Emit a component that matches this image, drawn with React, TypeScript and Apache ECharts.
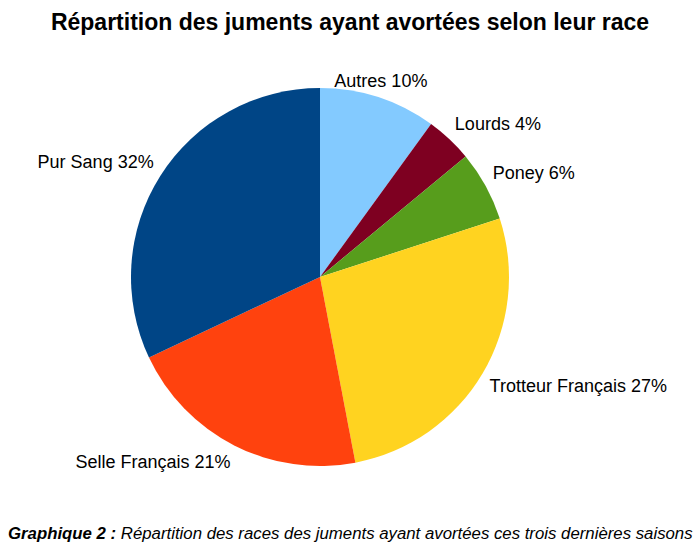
import React, { useEffect, useRef } from "react";
import * as echarts from "echarts";

const TITLE = "Répartition des juments ayant avortées selon leur race";
const CAPTION_BOLD = "Graphique 2 :";
const CAPTION_TEXT = " Répartition des races des juments ayant avortées ces trois dernières saisons";

const categories = ["Autres", "Lourds", "Poney", "Trotteur Français", "Selle Français", "Pur Sang"];
const values = [10, 4, 6, 27, 21, 32];
const colors = ["#83CAFF", "#7E0021", "#579D1C", "#FFD320", "#FF420E", "#004586"];

const CX = 320;
const CY = 277;
const R = 189;
const GAP = 8;

export default function App() {
  const ref = useRef<HTMLDivElement>(null);
  useEffect(() => {
    if (!ref.current) return;
    const chart = echarts.init(ref.current, null, { renderer: "svg" });
    const total = values.reduce((a, b) => a + b, 0);
    const mids: number[] = [];
    let acc = 0;
    values.forEach((v) => {
      mids.push(((acc + v / 2) / total) * Math.PI * 2);
      acc += v;
    });
    chart.setOption({
      animation: false,
      backgroundColor: "#ffffff",
      title: {
        text: TITLE,
        left: "center",
        top: 5,
        textStyle: { fontFamily: "Liberation Sans", fontWeight: "bold", fontSize: 23, color: "#000" },
      },
      graphic: [
        {
          type: "text",
          left: 8,
          top: 525,
          style: {
            text: "{b|" + CAPTION_BOLD + "}{i|" + CAPTION_TEXT + "}",
            rich: {
              b: { fontFamily: "Liberation Sans", fontWeight: "bold", fontStyle: "italic", fontSize: 16.8, fill: "#000" },
              i: { fontFamily: "Liberation Sans", fontStyle: "italic", fontSize: 16.8, fill: "#000" },
            },
          },
        },
      ],
      series: [
        {
          type: "pie",
          center: [CX, CY],
          radius: R,
          startAngle: 90,
          clockwise: true,
          data: categories.map((c, i) => ({ name: c, value: values[i], itemStyle: { color: colors[i] } })),
          itemStyle: { borderWidth: 0 },
          label: {
            show: true,
            position: "outside",
            overflow: "none",
            edgeDistance: 0,
            formatter: (p: any) => p.name + " " + p.value + "%",
            fontFamily: "Liberation Sans",
            fontSize: 18,
            color: "#000",
          },
          labelLine: { show: false },
          labelLayout: (p: any) => {
            const a = mids[p.dataIndex];
            const ux = Math.sin(a);
            const uy = -Math.cos(a);
            const x = CX + ux * (R + GAP);
            const y = CY + uy * (R + GAP);
            const align = ux > 0.35 ? "left" : ux < -0.35 ? "right" : "center";
            const verticalAlign = uy < -0.35 ? "bottom" : uy > 0.35 ? "top" : "middle";
            return { x, y, align, verticalAlign, width: 300 };
          },
          emphasis: { disabled: true },
        },
      ],
    });
    return () => chart.dispose();
  }, []);
  return (
    <div
      ref={ref}
      style={{ position: "fixed", left: 0, top: 0, width: 700, height: 547, background: "#fff" }}
    />
  );
}
